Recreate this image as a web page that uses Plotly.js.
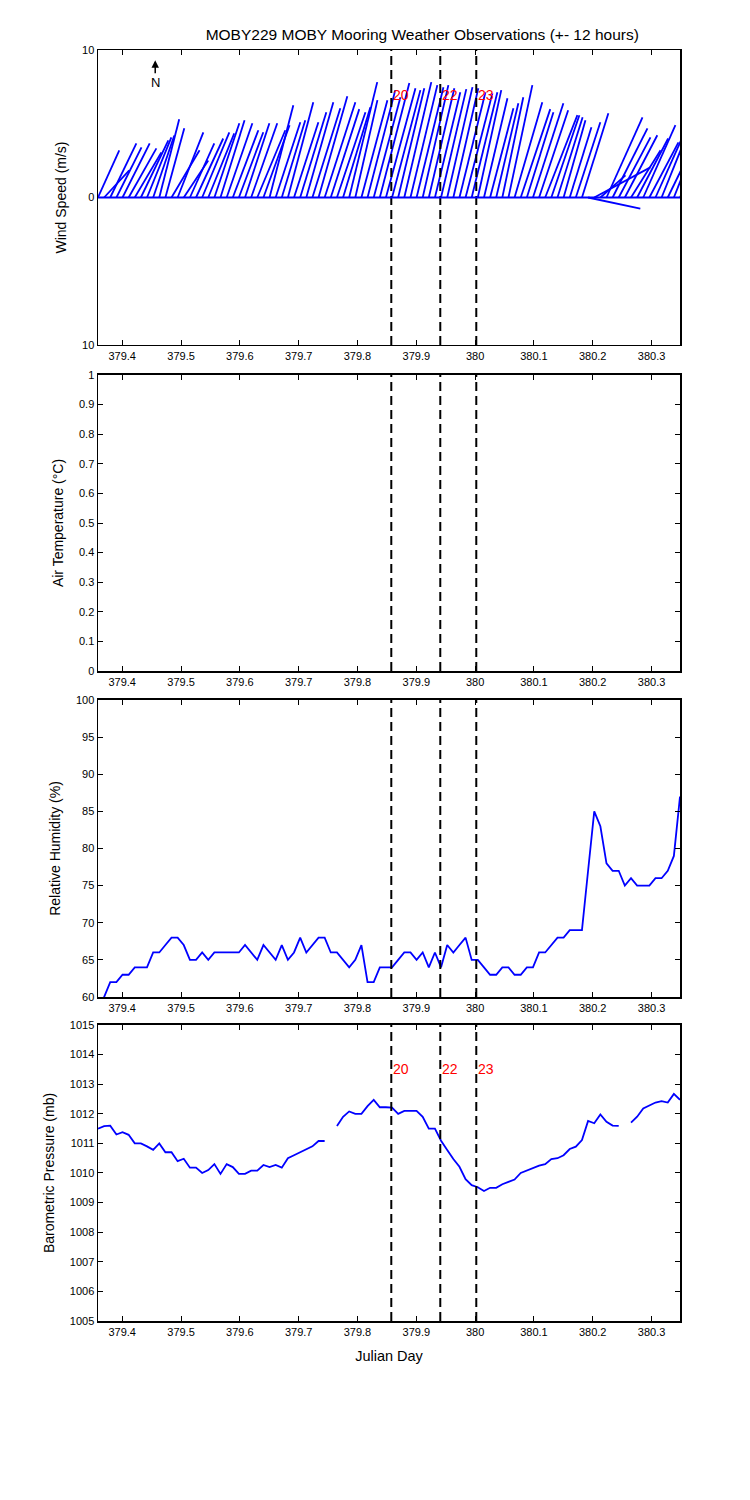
<!DOCTYPE html>
<html>
<head>
<meta charset="utf-8">
<script src="https://cdn.plot.ly/plotly-3.0.1.min.js"></script>
<style>html,body{margin:0;padding:0;background:#fff;}</style>
</head>
<body>
<div id="chart" style="width:750px;height:1500px;"></div>
<script>
// ---- Data ----
const julianDay = [
  379.3588, 379.3692, 379.3796, 379.3901, 379.4005, 379.4109, 379.4213, 379.4317,
  379.4421, 379.4526, 379.4630, 379.4734, 379.4838, 379.4942, 379.5046, 379.5151,
  379.5255, 379.5359, 379.5463, 379.5567, 379.5671, 379.5776, 379.5880, 379.5984,
  379.6088, 379.6192, 379.6296, 379.6401, 379.6505, 379.6609, 379.6713, 379.6817,
  379.6921, 379.7026, 379.7130, 379.7234, 379.7338, 379.7442, 379.7546, 379.7651,
  379.7755, 379.7859, 379.7963, 379.8067, 379.8171, 379.8276, 379.8380, 379.8484,
  379.8588, 379.8692, 379.8796, 379.8901, 379.9005, 379.9109, 379.9213, 379.9317,
  379.9421, 379.9526, 379.9630, 379.9734, 379.9838, 379.9942, 380.0046, 380.0151,
  380.0255, 380.0359, 380.0463, 380.0567, 380.0671, 380.0776, 380.0880, 380.0984,
  380.1088, 380.1192, 380.1296, 380.1401, 380.1505, 380.1609, 380.1713, 380.1817,
  380.1921, 380.2026, 380.2130, 380.2234, 380.2338, 380.2442, 380.2546, 380.2651,
  380.2755, 380.2859, 380.2963, 380.3067, 380.3171, 380.3276, 380.3380, 380.3484
];
// wind east (u) and north (v) components, m/s
const windU = [
  1.44, 1.70, 1.77, 1.70, 1.84, 1.88, 1.80, 1.86, 1.65, 1.43, 1.35, 1.28,
  1.90, 1.74, 1.66, 1.65, 1.84, 1.84, 1.76, 1.69, 1.63, 1.74, 1.73, 1.65,
  1.65, 1.77, 1.90, 1.77, 1.61, 1.67, 1.59, 1.72, 1.65, 1.77, 1.83, 1.89,
  1.95, 2.08, 1.93, 1.93, 1.85, 1.90, 1.50, 1.76, 1.88, 1.81, 2.00, 2.00,
  1.92, 1.77, 1.83, 1.82, 1.82, 1.74, 1.73, 1.72, 1.71, 1.71, 1.69, 1.76,
  1.82, 1.74, 1.59, 1.59, 1.58, 1.50, 1.42, 1.62, 1.88, 2.00, 1.80, 2.06,
  1.97, 2.18, 1.90, 1.70, 1.48, 1.47, 1.66, 1.79, 3.54, 3.80, 1.70, 2.44,
  2.36, 2.15, 2.20, 2.00, 2.10, 2.18, 1.97, 2.04, 1.97, 1.90, 1.80, 1.70
];
const windV = [
  3.20, 1.84, 3.67, 3.40, 3.67, 3.33, 3.06, 3.88, 4.08, 4.20, 5.30, 4.70,
  3.20, 4.42, 2.50, 3.67, 4.00, 4.42, 4.35, 5.03, 5.24, 5.03, 4.56, 4.42,
  5.03, 5.03, 4.56, 4.90, 6.26, 5.10, 5.24, 6.46, 5.10, 5.78, 6.46, 6.05,
  6.87, 6.46, 5.99, 5.78, 6.12, 7.82, 6.60, 6.60, 7.28, 6.80, 7.76, 7.41,
  7.28, 7.41, 7.82, 7.62, 7.48, 7.62, 7.41, 7.14, 7.35, 7.48, 7.41, 7.14,
  7.07, 7.14, 7.28, 6.73, 6.05, 6.39, 6.80, 7.62, 6.46, 5.99, 5.78, 6.39,
  5.92, 5.58, 5.58, 5.44, 5.24, 4.76, 5.10, 5.71, -0.75, 2.04, 1.50, 5.44,
  4.69, 4.08, 4.22, 3.20, 4.00, 4.90, 3.74, 4.56, 4.90, 3.90, 4.56, 3.90
];
const airTemp = []; // no air temperature observations
const humidity = [
  58, 60, 62, 62, 63, 63, 64, 64, 64, 66, 66, 67, 68, 68, 67, 65,
  65, 66, 65, 66, 66, 66, 66, 66, 67, 66, 65, 67, 66, 65, 67, 65,
  66, 68, 66, 67, 68, 68, 66, 66, 65, 64, 65, 67, 62, 62, 64, 64,
  64, 65, 66, 66, 65, 66, 64, 66, 64, 67, 66, 67, 68, 65, 65, 64,
  63, 63, 64, 64, 63, 63, 64, 64, 66, 66, 67, 68, 68, 69, 69, 69,
  77, 85, 83, 78, 77, 77, 75, 76, 75, 75, 75, 76, 76, 77, 79, 87
];
const pressure = [
  1011.50, 1011.58, 1011.60, 1011.30, 1011.38, 1011.29, 1011.00, 1011.00,
  1010.90, 1010.78, 1011.00, 1010.70, 1010.70, 1010.40, 1010.48, 1010.18,
  1010.18, 1010.00, 1010.10, 1010.30, 1009.97, 1010.30, 1010.20, 1009.97,
  1009.97, 1010.08, 1010.08, 1010.27, 1010.20, 1010.27, 1010.18, 1010.50,
  1010.60, 1010.70, 1010.80, 1010.90, 1011.08, 1011.08, null,    1011.59,
  1011.90, 1012.08, 1012.00, 1012.00, 1012.26, 1012.47, 1012.22, 1012.22,
  1012.21, 1012.00, 1012.10, 1012.10, 1012.10, 1011.90, 1011.50, 1011.50,
  1011.09, 1010.78, 1010.47, 1010.21, 1009.79, 1009.59, 1009.52, 1009.39,
  1009.50, 1009.50, 1009.62, 1009.70, 1009.78, 1010.00, 1010.08, 1010.18,
  1010.25, 1010.30, 1010.47, 1010.50, 1010.60, 1010.81, 1010.89, 1011.11,
  1011.76, 1011.68, 1011.98, 1011.73, 1011.60, 1011.59, null,    1011.70,
  1011.90, 1012.18, 1012.28, 1012.38, 1012.43, 1012.38, 1012.67, 1012.47
];
const eventDays = [379.8575, 379.9408, 380.0020];
const eventLabels = ['20', '22', '23'];
const xTickVals = [379.4, 379.5, 379.6, 379.7, 379.8, 379.9, 380.0, 380.1, 380.2, 380.3];
const xTickText = ['379.4', '379.5', '379.6', '379.7', '379.8', '379.9', '380', '380.1', '380.2', '380.3'];
const windTickVals = [-10, 0, 10];
const windTickText = ['10', '0', '10'];
const tempTickVals = [0, 0.1, 0.2, 0.3, 0.4, 0.5, 0.6, 0.7, 0.8, 0.9, 1];
const tempTickText = ['0', '0.1', '0.2', '0.3', '0.4', '0.5', '0.6', '0.7', '0.8', '0.9', '1'];
const rhTickVals = [60, 65, 70, 75, 80, 85, 90, 95, 100];
const bpTickVals = [1005, 1006, 1007, 1008, 1009, 1010, 1011, 1012, 1013, 1014, 1015];

// ---- Styling ----
const FONT = 'Liberation Sans, Arial, Helvetica, sans-serif';
const BLUE = '#0000ff';
const xRange = [julianDay[0], julianDay[julianDay.length - 1]];
const stickScale = 0.0251; // days of x per m/s so that sticks show true direction on screen

// Stick (quiver) plot built from u/v
const sx = [], sy = [];
for (let i = 0; i < julianDay.length; i++) {
  if (windU[i] == null || windV[i] == null) continue;
  sx.push(julianDay[i], julianDay[i] + windU[i] * stickScale, null);
  sy.push(0, windV[i], null);
}

const traces = [
  {x: sx, y: sy, xaxis: 'x', yaxis: 'y', mode: 'lines', type: 'scatter',
   line: {color: BLUE, width: 1.8}, hoverinfo: 'skip'},
  {x: julianDay.slice(0, airTemp.length), y: airTemp, xaxis: 'x2', yaxis: 'y2', mode: 'lines', type: 'scatter',
   line: {color: BLUE, width: 1.8}},
  {x: julianDay, y: humidity, xaxis: 'x3', yaxis: 'y3', mode: 'lines', type: 'scatter',
   line: {color: BLUE, width: 1.8}},
  {x: julianDay, y: pressure, xaxis: 'x4', yaxis: 'y4', mode: 'lines', type: 'scatter',
   line: {color: BLUE, width: 1.8}, connectgaps: false}
];

const axBase = {
  showline: true, linecolor: '#000', linewidth: 1.5, mirror: 'ticks',
  ticks: 'inside', ticklen: 5, tickwidth: 1, tickcolor: '#000',
  showgrid: false, zeroline: false,
  tickfont: {family: FONT, size: 11, color: '#000'}
};
function xAx(anchor, extra) {
  return Object.assign({}, axBase, {anchor: anchor, range: xRange, tickmode: 'array',
    tickvals: xTickVals, ticktext: xTickText}, extra || {});
}
function yAx(anchor, domain, range, tv, tt, title) {
  return Object.assign({}, axBase, {anchor: anchor, domain: domain, range: range,
    tickmode: 'array', tickvals: tv, ticktext: tt || tv.map(String),
    title: {text: title, font: {family: FONT, size: 14, color: '#000'}, standoff: 12}});
}

const doms = [[0.7679, 1], [0.5114, 0.7443], [0.2549, 0.4886], [0, 0.2329]];

const shapes = [];
const annotations = [];
['y', 'y2', 'y3', 'y4'].forEach((ya, k) => {
  const xa = k === 0 ? 'x' : 'x' + (k + 1);
  eventDays.forEach(d => {
    shapes.push({type: 'line', xref: xa, yref: ya + ' domain', x0: d, x1: d, y0: 0, y1: 1,
      line: {color: '#000', width: 2, dash: '9px,5px'}});
  });
});
// wind baseline
shapes.push({type: 'line', xref: 'x domain', yref: 'y', x0: 0, x1: 1, y0: 0, y1: 0,
  line: {color: BLUE, width: 2}});

eventDays.forEach((d, j) => {
  annotations.push({xref: 'x', yref: 'y', x: d, y: 6.96, text: eventLabels[j], showarrow: false,
    xanchor: 'left', yanchor: 'middle', font: {family: FONT, size: 14, color: '#ff0000'}});
  annotations.push({xref: 'x4', yref: 'y4', x: d, y: 1013.51, text: eventLabels[j], showarrow: false,
    xanchor: 'left', yanchor: 'middle', font: {family: FONT, size: 14, color: '#ff0000'}});
});
// North arrow
annotations.push({xref: 'x', yref: 'y', x: 379.4561, y: 9.3, text: 'N', showarrow: true,
  ax: 0, ay: 22, arrowhead: 2, arrowsize: 1, arrowwidth: 1.5, arrowcolor: '#000',
  font: {family: FONT, size: 13, color: '#000'}});

const layout = {
  width: 750, height: 1500,
  margin: {l: 98, r: 70, t: 50, b: 179},
  paper_bgcolor: '#fff', plot_bgcolor: '#fff',
  showlegend: false,
  font: {family: FONT, size: 11, color: '#000'},
  title: {text: 'MOBY229 MOBY Mooring Weather Observations (+- 12 hours)',
    font: {family: FONT, size: 15.5, color: '#000'},
    xref: 'container', x: 0.563, xanchor: 'center', yref: 'container', y: 0.977, yanchor: 'middle'},
  xaxis: xAx('y'),
  xaxis2: xAx('y2'),
  xaxis3: xAx('y3'),
  xaxis4: xAx('y4', {title: {text: 'Julian Day', font: {family: FONT, size: 14.5, color: '#000'}, standoff: 14}}),
  yaxis: yAx('x', doms[0], [-10, 10], windTickVals, windTickText, 'Wind Speed (m/s)'),
  yaxis2: yAx('x2', doms[1], [0, 1], tempTickVals, tempTickText, 'Air Temperature (°C)'),
  yaxis3: yAx('x3', doms[2], [60, 100], rhTickVals, null, 'Relative Humidity (%)'),
  yaxis4: yAx('x4', doms[3], [1005, 1015], bpTickVals, null, 'Barometric Pressure (mb)'),
  shapes: shapes,
  annotations: annotations
};

Plotly.newPlot('chart', traces, layout, {staticPlot: true, displayModeBar: false});
</script>
</body>
</html>
